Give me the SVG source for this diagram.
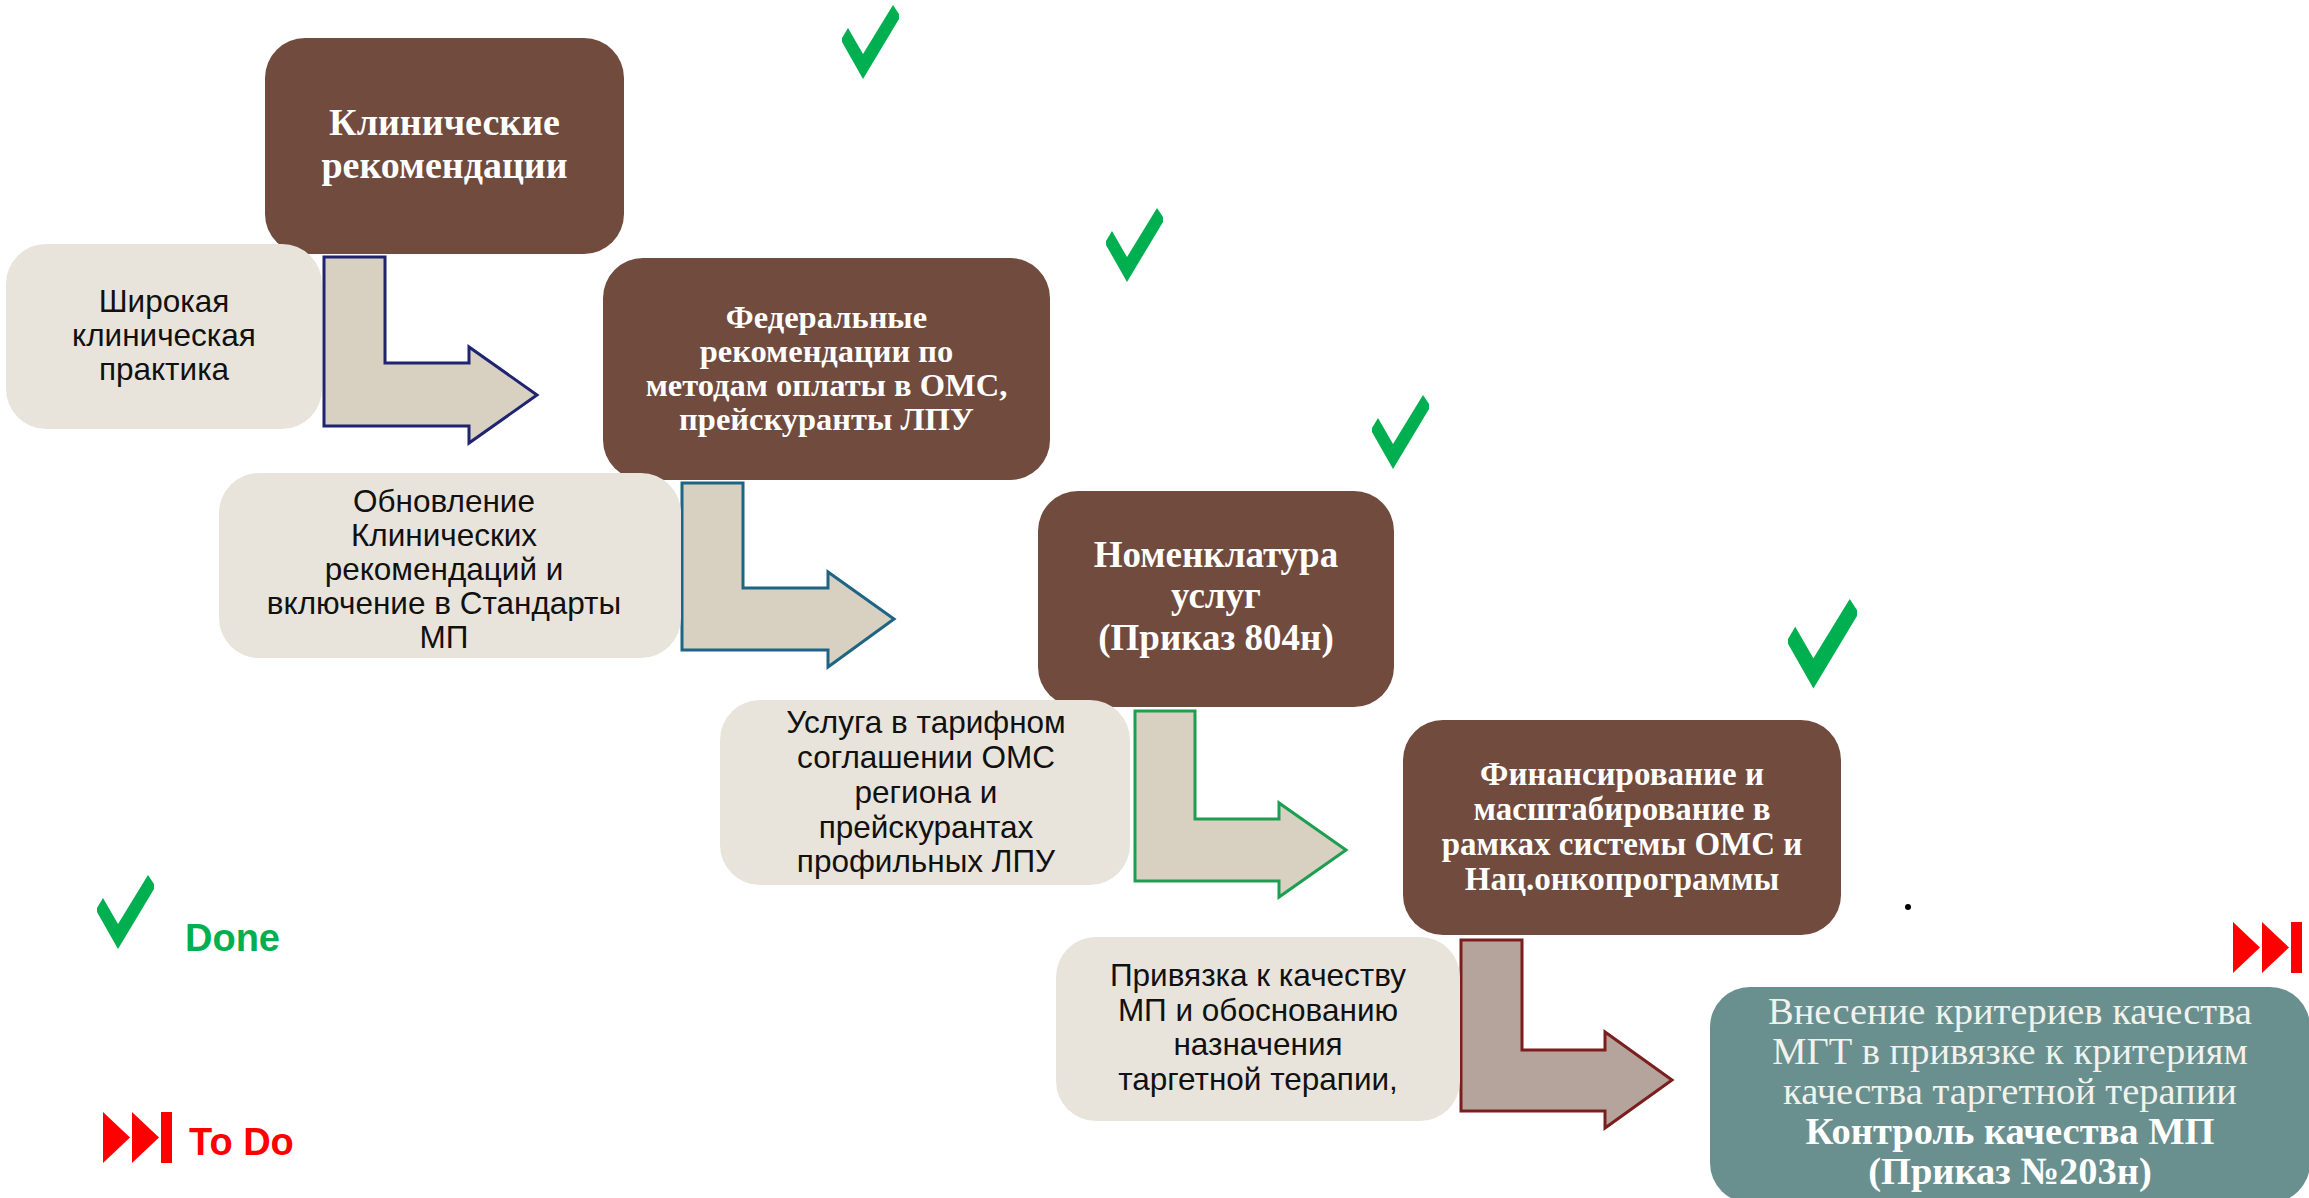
<svg xmlns="http://www.w3.org/2000/svg" xmlns:xlink="http://www.w3.org/1999/xlink" width="2309" height="1198" viewBox="0 0 2309 1198">
<style>
.dark{fill:#704B3E}
.light{fill:#E8E4DC}
.teal{fill:#69908F}
.tb{font-family:"Liberation Serif","DejaVu Serif",serif;font-weight:bold;fill:#FFFFFF;text-anchor:middle}
.tr{font-family:"Liberation Serif","DejaVu Serif",serif;fill:#F2F2EC;text-anchor:middle}
.ts{font-family:"Liberation Sans",Arial,sans-serif;font-size:31.5px;fill:#111111;text-anchor:middle}
.arr{fill:#D8D1C1;stroke-width:3;stroke-linejoin:miter}
.chk{fill:#00B050}
.ff{fill:#FF0000}
</style>
<defs>
<path id="chk" d="M0,33 L6,23 L21,49 L51,0 L57,9 L57,14 L21,74 L0,37 Z"/>
<path id="ff" d="M0,0 L27,25.5 L0,51 Z M29,0 L56,25.5 L29,51 Z M58,0 H69 V51 H58 Z"/>
</defs>

<g id="connectors">
<path class="arr" stroke="#1F2370" d="M324,257 H385 V363 H469 V347 L537,395 L469,443 V426 H324 Z"/>
<path class="arr" stroke="#1F6482" d="M682,483 H743 V588 H828 V572 L894,619 L828,667 V650 H682 Z"/>
<path class="arr" stroke="#1E9E50" d="M1135,711 H1195 V819 H1279 V803 L1346,850 L1279,897 V881 H1135 Z"/>
<path class="arr" style="fill:#B5A49B" stroke="#7A1E1E" d="M1461,940 H1522 V1050 H1605 V1032 L1672,1080 L1605,1128 V1111 H1461 Z"/>
</g>

<g id="n1">
<rect class="dark" x="265" y="38" width="359" height="216" rx="40"/>
<text class="tb" font-size="38" x="444.5" y="135">Клинические</text>
<text class="tb" font-size="38" x="444.5" y="178">рекомендации</text>
</g>

<g id="n1b">
<rect class="light" x="6" y="244" width="316" height="185" rx="40"/>
<text class="ts" x="164" y="312">Широкая</text>
<text class="ts" x="164" y="346">клиническая</text>
<text class="ts" x="164" y="380">практика</text>
</g>

<g id="n2">
<rect class="dark" x="603" y="258" width="447" height="222" rx="40"/>
<text class="tb" font-size="32.5" x="826.5" y="328">Федеральные</text>
<text class="tb" font-size="32.5" x="826.5" y="362">рекомендации по</text>
<text class="tb" font-size="32.5" x="826.5" y="396">методам оплаты в ОМС,</text>
<text class="tb" font-size="32.5" x="826.5" y="430">прейскуранты ЛПУ</text>
</g>

<g id="n2b">
<rect class="light" x="219" y="473" width="462" height="185" rx="40"/>
<text class="ts" x="444" y="512">Обновление</text>
<text class="ts" x="444" y="546">Клинических</text>
<text class="ts" x="444" y="580">рекомендаций и</text>
<text class="ts" x="444" y="614">включение в Стандарты</text>
<text class="ts" x="444" y="648">МП</text>
</g>

<g id="n3">
<rect class="dark" x="1038" y="491" width="356" height="216" rx="40"/>
<text class="tb" font-size="37" x="1216" y="567">Номенклатура</text>
<text class="tb" font-size="37" x="1216" y="608">услуг</text>
<text class="tb" font-size="37" x="1216" y="650">(Приказ 804н)</text>
</g>

<g id="n3b">
<rect class="light" x="720" y="700" width="410" height="185" rx="40"/>
<text class="ts" x="926" y="733">Услуга в тарифном</text>
<text class="ts" x="926" y="768">соглашении ОМС</text>
<text class="ts" x="926" y="803">региона и</text>
<text class="ts" x="926" y="838">прейскурантах</text>
<text class="ts" x="926" y="872">профильных ЛПУ</text>
</g>

<g id="n4">
<rect class="dark" x="1403" y="720" width="438" height="215" rx="40"/>
<text class="tb" font-size="33" x="1622" y="785">Финансирование и</text>
<text class="tb" font-size="33" x="1622" y="820">масштабирование в</text>
<text class="tb" font-size="33" x="1622" y="855">рамках системы ОМС и</text>
<text class="tb" font-size="33" x="1622" y="890">Нац.онкопрограммы</text>
</g>

<g id="n4b">
<rect class="light" x="1056" y="937" width="404" height="184" rx="40"/>
<text class="ts" x="1258" y="986">Привязка к качеству</text>
<text class="ts" x="1258" y="1021">МП и обоснованию</text>
<text class="ts" x="1258" y="1055">назначения</text>
<text class="ts" x="1258" y="1090">таргетной терапии,</text>
</g>

<g id="n5">
<rect class="teal" x="1710" y="987" width="600" height="216" rx="40"/>
<text class="tr" font-size="38.5" x="2010" y="1024">Внесение критериев качества</text>
<text class="tr" font-size="38.5" x="2010" y="1064">МГТ в привязке к критериям</text>
<text class="tr" font-size="38.5" x="2010" y="1104">качества таргетной терапии</text>
<text class="tb" font-size="38.5" x="2010" y="1144">Контроль качества МП</text>
<text class="tb" font-size="38.5" x="2010" y="1184">(Приказ №203н)</text>
</g>

<g id="marks">
<use xlink:href="#chk" class="chk" transform="translate(842,5)"/>
<use xlink:href="#chk" class="chk" transform="translate(1106,208)"/>
<use xlink:href="#chk" class="chk" transform="translate(1372,395)"/>
<use xlink:href="#chk" class="chk" transform="translate(1788,599) scale(1.21)"/>
<use xlink:href="#ff" class="ff" transform="translate(2233,922)"/>
<circle cx="1908" cy="907" r="3" fill="#000000"/>
</g>

<g id="legend">
<use xlink:href="#chk" class="chk" transform="translate(97,875)"/>
<text x="185" y="951" font-family="Liberation Sans,Arial,sans-serif" font-weight="bold" font-size="38" fill="#00B050">Done</text>
<use xlink:href="#ff" class="ff" transform="translate(103,1112)"/>
<text x="189" y="1155" font-family="Liberation Sans,Arial,sans-serif" font-weight="bold" font-size="38" fill="#FF0000">To Do</text>
</g>
</svg>
